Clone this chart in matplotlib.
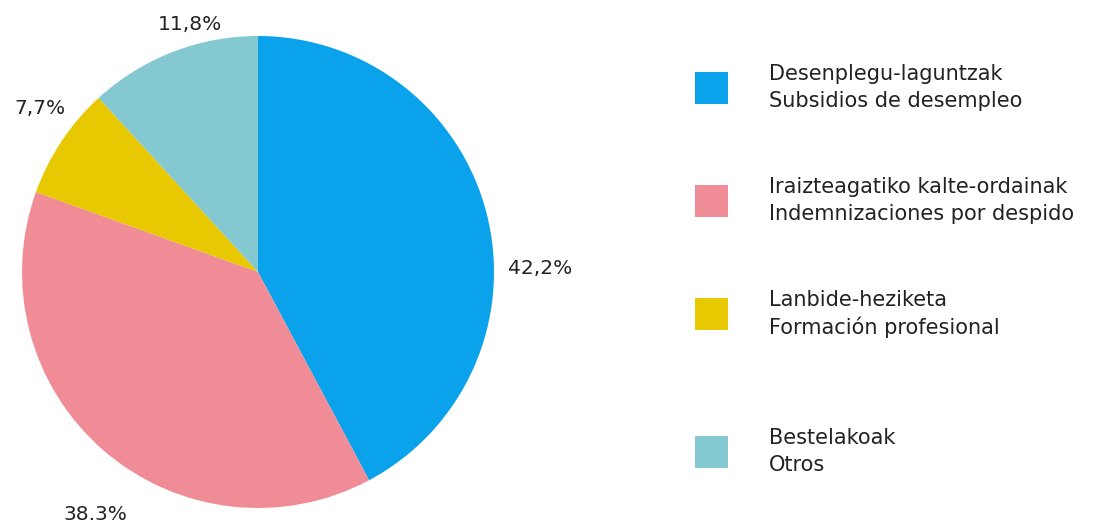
import matplotlib
matplotlib.use("Agg")
import matplotlib.pyplot as plt
from matplotlib.patches import Rectangle

# data
shares = [42.2, 38.3, 7.7, 11.8]
pct_labels = ["42,2%", "38.3%", "7,7%", "11,8%"]
names_eu = ["Desenplegu-laguntzak", "Iraizteagatiko kalte-ordainak",
            "Lanbide-heziketa", "Bestelakoak"]
names_es = ["Subsidios de desempleo", "Indemnizaciones por despido",
            "Formación profesional", "Otros"]
colors = ["#0aa2ea", "#f08c96", "#e8c800", "#84c8d2"]

plt.rcParams['font.family'] = ['DejaVu Sans']

W, H = 1094, 526
fig = plt.figure(figsize=(W / 100, H / 100), dpi=100)

# pie axes, placed in pixel terms
cx, cy, r = 258, 272, 236
ax = fig.add_axes([(cx - r) / W, (H - cy - r) / H, 2 * r / W, 2 * r / H])
wedges, _ = ax.pie(shares, colors=colors, startangle=90, counterclock=False,
                   radius=1.0, wedgeprops=dict(linewidth=0))
ax.set_xlim(-1, 1)
ax.set_ylim(-1, 1)
ax.set_aspect('auto')

# percentage labels (positions in pixels from top-left)
label_pos = [(540, 268), (95, 514), (40, 109), (190, 25)]
for txt, (x, y) in zip(pct_labels, label_pos):
    fig.text(x / W, 1 - y / H, txt, fontsize=14.5, color="#222222",
             ha='center', va='center')

# legend
rows_y = [88, 201, 314, 452]
for eu, es, c, y in zip(names_eu, names_es, colors, rows_y):
    fig.patches.append(Rectangle(((695) / W, 1 - (y + 16) / H), 33 / W, 32 / H,
                                 transform=fig.transFigure, facecolor=c,
                                 edgecolor='none'))
    fig.text(769 / W, 1 - (y - 14) / H, eu, fontsize=15, color="#222222",
             ha='left', va='center')
    fig.text(769 / W, 1 - (y + 13) / H, es, fontsize=15, color="#222222",
             ha='left', va='center')

fig.savefig("out.png", dpi=100)
